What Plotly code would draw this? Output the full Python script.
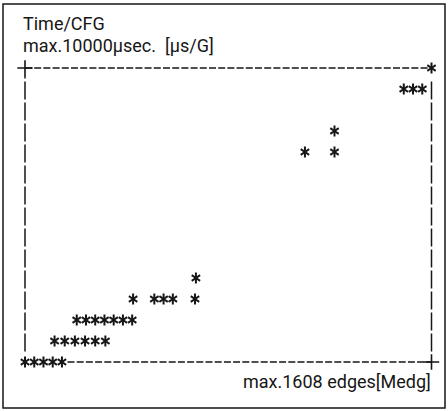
import plotly.graph_objects as go

# ---- data (grid column = x, grid row = y) ----
point_cols = [0, 1, 2, 3, 4,
              3.2, 4.3, 5.4, 6.5, 7.6, 8.7,
              5.6, 6.6, 7.6, 8.6, 9.6, 10.6, 11.6,
              11.7, 14, 15, 16, 18.4,
              18.5,
              30.3, 33.5,
              33.5,
              41, 42, 43,
              44]
point_rows = [0, 0, 0, 0, 0,
              1, 1, 1, 1, 1, 1,
              2, 2, 2, 2, 2, 2, 2,
              3, 3, 3, 3, 3,
              4,
              10, 10,
              11,
              13, 13, 13,
              14]

title_line1 = "Time/CFG"
title_line2 = "max.10000μsec.  [μs/G]"
x_label = "max.1608 edges[Medg]"

GRID_COLS = 44   # last column index
GRID_ROWS = 14   # last row index

# ---- layout geometry ----
W, H = 448, 411
ML, MR, MT, MB = 16, 7, 47, 28
px_per_col = 406.5 / GRID_COLS
x0 = -(25 - ML) / px_per_col
x1 = x0 + (W - ML - MR) / px_per_col
px_per_row = 21.0
y1 = GRID_ROWS + (68 - MT) / px_per_row
y0 = y1 - (H - MT - MB) / px_per_row

INK = "#161616"

fig = go.Figure()

# frame (ASCII-like dashed box)
dash_h = "7px,2.2px"
dash_v = "18px,3px"
fig.add_trace(go.Scatter(x=[0, GRID_COLS], y=[GRID_ROWS, GRID_ROWS], mode="lines",
                         line=dict(color=INK, width=1.3, dash=dash_h), hoverinfo="skip"))
fig.add_trace(go.Scatter(x=[4.6, GRID_COLS], y=[0, 0], mode="lines",
                         line=dict(color=INK, width=1.3, dash=dash_h), hoverinfo="skip"))
fig.add_trace(go.Scatter(x=[0, 0], y=[0.5, GRID_ROWS - 0.35], mode="lines",
                         line=dict(color=INK, width=1.5, dash=dash_v), hoverinfo="skip"))
fig.add_trace(go.Scatter(x=[GRID_COLS, GRID_COLS], y=[0.5, GRID_ROWS - 0.5], mode="lines",
                         line=dict(color=INK, width=1.5, dash=dash_v), hoverinfo="skip"))
fig.add_trace(go.Scatter(x=[0, GRID_COLS], y=[GRID_ROWS, 0], mode="markers",
                         marker=dict(symbol="cross-thin-open", size=11, color=INK,
                                     line=dict(color=INK, width=1.6)),
                         hoverinfo="skip"))

# asterisk points: y-up + y-down overlay -> six-armed "*"
for sym in ["y-up-open", "y-down-open"]:
    fig.add_trace(go.Scatter(x=point_cols, y=point_rows, mode="markers",
                             marker=dict(symbol=sym, size=7, color=INK,
                                         line=dict(color=INK, width=2.0)),
                             hoverinfo="skip"))

pw = W - ML - MR
ph = H - MT - MB


def px_to_paper(px, py):
    return (px - ML) / pw, (H - MB - py) / ph


FONT = dict(family="Roboto, Liberation Sans, sans-serif", size=18, color=INK)

ax, ay = px_to_paper(21, 23)
fig.add_annotation(x=ax, y=ay, xref="paper", yref="paper", text=title_line1,
                   showarrow=False, xanchor="left", yanchor="middle", font=FONT)
ax, ay = px_to_paper(21, 45)
fig.add_annotation(x=ax, y=ay, xref="paper", yref="paper", text=title_line2,
                   showarrow=False, xanchor="left", yanchor="middle", font=FONT)
ax, ay = px_to_paper(433, 381)
fig.add_annotation(x=ax, y=ay, xref="paper", yref="paper", text=x_label,
                   showarrow=False, xanchor="right", yanchor="middle", font=FONT)

# outer border
bx0, by0 = px_to_paper(3, 408)
bx1, by1 = px_to_paper(445, 4)
fig.add_shape(type="rect", xref="paper", yref="paper", x0=bx0, y0=by0, x1=bx1, y1=by1,
              line=dict(color=INK, width=1.5))

fig.update_layout(
    width=W, height=H,
    margin=dict(l=ML, r=MR, t=MT, b=MB, pad=0),
    paper_bgcolor="white", plot_bgcolor="white",
    showlegend=False,
    xaxis=dict(range=[x0, x1], visible=False, fixedrange=True),
    yaxis=dict(range=[y0, y1], visible=False, fixedrange=True),
)

fig.write_html("out.html",
               config={"displayModeBar": False, "staticPlot": True},
               post_script="document.body.style.margin='0';document.body.style.overflow='hidden';")
